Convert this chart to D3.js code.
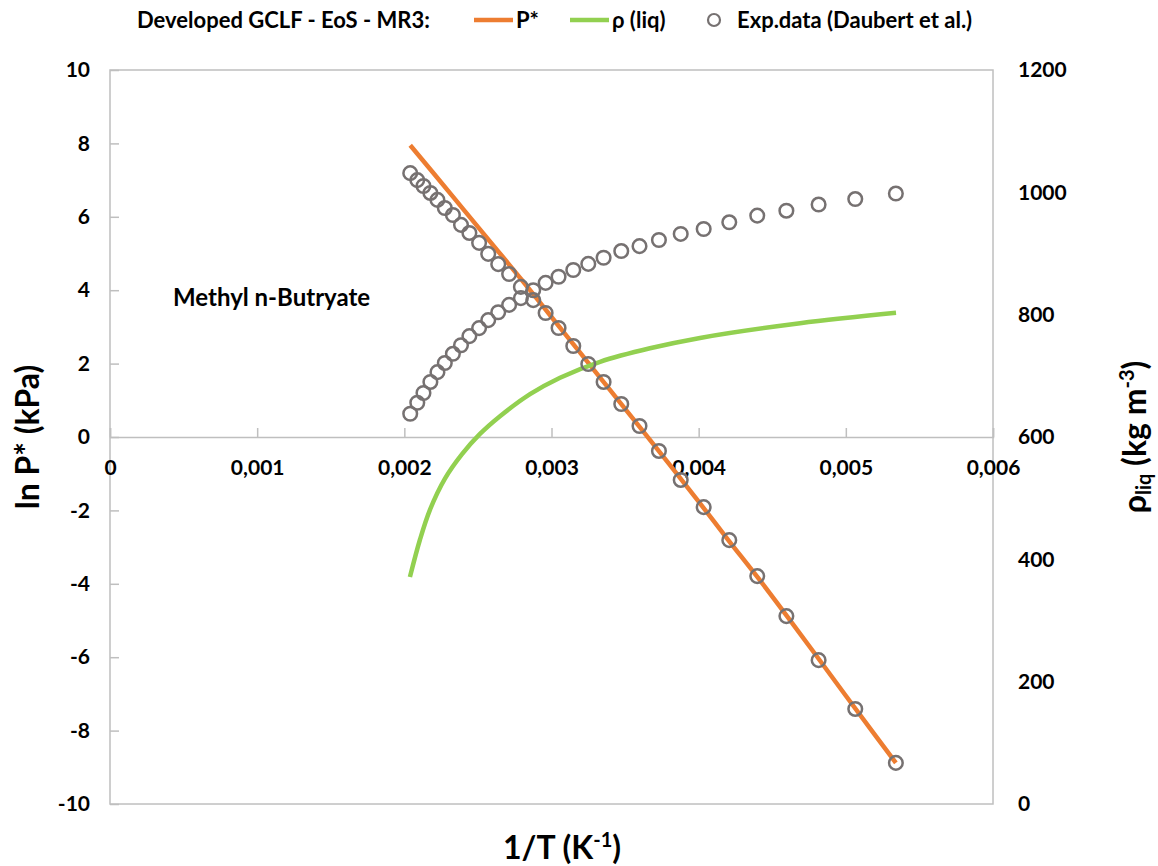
<!DOCTYPE html>
<html>
<head>
<meta charset="utf-8">
<script src="https://cdn.jsdelivr.net/npm/d3@7"></script>
<style>
  body { margin: 0; background: #fff; }
  svg { font-family: Lato, "Open Sans", sans-serif; font-weight: bold; }
  .tick text { fill: #000; }
</style>
</head>
<body>
<div id="chart"></div>
<script>
// 1/T (K^-1) of the experimental points, ln P* and liquid density read at each
var exp_x = [0.002040, 0.002088, 0.002130, 0.002177, 0.002225, 0.002275, 0.002330, 0.002385, 0.002442, 0.002508,
             0.002570, 0.002638, 0.002712, 0.002792, 0.002876, 0.002960, 0.003048, 0.003148, 0.003250, 0.003354,
             0.003474, 0.003598, 0.003730, 0.003878, 0.004034, 0.004208, 0.004398, 0.004596, 0.004815, 0.005064, 0.005340];
var exp_lnp = [7.19, 7.00, 6.84, 6.65, 6.46, 6.24, 6.05, 5.78, 5.56, 5.29,
               4.99, 4.71, 4.44, 4.09, 3.73, 3.38, 2.97, 2.48, 1.99, 1.50,
               0.90, 0.30, -0.38, -1.17, -1.91, -2.81, -3.79, -4.88, -6.08, -7.41, -8.88];
var exp_rho = [638, 656, 672, 690, 706, 721, 736, 750, 765, 778,
               791, 804, 816, 827, 840, 852, 862, 873, 883, 893,
               904, 912, 922, 932, 940, 951, 962, 970, 980, 989, 998];

// model curves
var p_x = [0.00204, 0.0022, 0.0024, 0.0026, 0.0028, 0.0030, 0.0032, 0.0034, 0.0036, 0.0038, 0.0040,
           0.0042, 0.0044, 0.0046, 0.0048, 0.0050, 0.0052, 0.00534];
var p_lnp = [7.95, 7.18, 6.21, 5.24, 4.27, 3.27, 2.27, 1.27, 0.27, -0.74, -1.76,
             -2.80, -3.82, -4.88, -5.96, -7.05, -8.13, -8.88];
var rho_x = [0.002038, 0.002106, 0.002174, 0.002276, 0.002392, 0.002514, 0.00265, 0.002854, 0.003058,
             0.00333, 0.003669, 0.004009, 0.004689, 0.005341];
var rho_val = [371, 432, 481, 532, 572, 605, 634, 670, 697,
               723, 745, 762, 786, 803];

var x_ticks = [0, 0.001, 0.002, 0.003, 0.004, 0.005, 0.006];
var lnp_ticks = [-10, -8, -6, -4, -2, 0, 2, 4, 6, 8, 10];
var rho_ticks = [0, 200, 400, 600, 800, 1000, 1200];

var W = 1158, H = 866;
var L = 110, R = 993, T = 70, B = 804;
var orange = '#ed7d31', green = '#92d050', grey = '#767171', axis_col = '#bfbfbf';

var svg = d3.select('#chart').append('svg').attr('width', W).attr('height', H);

var x = d3.scaleLinear().domain([0, 0.006]).range([L, R]);
var yl = d3.scaleLinear().domain([-10, 10]).range([B, T]);
var yr = d3.scaleLinear().domain([0, 1200]).range([B, T]);

// plot frame
svg.append('rect').attr('x', L).attr('y', T).attr('width', R - L).attr('height', B - T)
    .attr('fill', 'none').attr('stroke', axis_col).attr('stroke-width', 1.5);

var left = svg.append('g').attr('transform', 'translate(' + L + ',0)')
    .call(d3.axisLeft(yl).tickValues(lnp_ticks).tickFormat(d => String(d)).tickSize(-9).tickPadding(20));
left.select('.domain').remove();

var right = svg.append('g').attr('transform', 'translate(' + R + ',0)')
    .call(d3.axisRight(yr).tickValues(rho_ticks).tickFormat(d => String(d)).tickSize(0).tickPadding(25));
right.select('.domain').remove();

var fmt = d => d === 0 ? '0' : d3.format('.3f')(d).replace('.', ',');
var bottom = svg.append('g').attr('transform', 'translate(0,' + yl(0) + ')')
    .call(d3.axisBottom(x).tickValues(x_ticks).tickFormat(fmt).tickSize(-9).tickPadding(23));
bottom.select('.domain').attr('stroke', axis_col).attr('stroke-width', 1.5);

svg.selectAll('.tick line').attr('stroke', axis_col).attr('stroke-width', 1.5);
svg.selectAll('.tick text').attr('font-size', 21).attr('font-family', 'Lato').attr('font-weight', 'bold');

// curves
var line_p = d3.line().x((d, i) => x(p_x[i])).y(d => yl(d)).curve(d3.curveMonotoneX);
svg.append('path').datum(p_lnp).attr('d', line_p).attr('fill', 'none')
    .attr('stroke', orange).attr('stroke-width', 4.5);

var line_rho = d3.line().x((d, i) => x(rho_x[i])).y(d => yr(d)).curve(d3.curveCatmullRom.alpha(0.5));
svg.append('path').datum(rho_val).attr('d', line_rho).attr('fill', 'none')
    .attr('stroke', green).attr('stroke-width', 4.5);

// experimental points
svg.append('g').selectAll('circle.p').data(exp_lnp).join('circle')
    .attr('cx', (d, i) => x(exp_x[i])).attr('cy', d => yl(d)).attr('r', 6.8)
    .attr('fill', 'none').attr('stroke', grey).attr('stroke-width', 2.5);
svg.append('g').selectAll('circle.r').data(exp_rho).join('circle')
    .attr('cx', (d, i) => x(exp_x[i])).attr('cy', d => yr(d)).attr('r', 6.8)
    .attr('fill', 'none').attr('stroke', grey).attr('stroke-width', 2.5);

// annotation
svg.append('text').attr('x', 173).attr('y', 306).attr('font-size', 24).text('Methyl n-Butryate');

// axis titles
svg.append('text').attr('text-anchor', 'middle').attr('font-size', 32)
    .attr('transform', 'translate(39,' + yl(0) + ') rotate(-90)').text('ln P* (kPa)');
var xt = svg.append('text').attr('text-anchor', 'middle').attr('font-size', 32)
    .attr('x', 562).attr('y', 859);
xt.append('tspan').text('1/T (K');
xt.append('tspan').attr('font-size', 20).attr('dy', -12).text('-1');
xt.append('tspan').attr('dy', 12).text(')');

var rt = svg.append('text').attr('text-anchor', 'middle').attr('font-size', 32)
    .attr('transform', 'translate(1146,' + yl(0) + ') rotate(-90)');
rt.append('tspan').text('\u03c1');
rt.append('tspan').attr('font-size', 20).attr('dy', 5).text('liq');
rt.append('tspan').attr('dy', -5).text(' (kg m');
rt.append('tspan').attr('font-size', 20).attr('dy', -12).text('-3');
rt.append('tspan').attr('dy', 12).text(')');

// legend
var lg = svg.append('g').attr('font-size', 22);
lg.append('text').attr('x', 137).attr('y', 28).text('Developed GCLF - EoS - MR3:');
lg.append('line').attr('x1', 474).attr('x2', 513).attr('y1', 20).attr('y2', 20)
    .attr('stroke', orange).attr('stroke-width', 4.5);
lg.append('text').attr('x', 516).attr('y', 28).text('P*');
lg.append('line').attr('x1', 570).attr('x2', 609).attr('y1', 20).attr('y2', 20)
    .attr('stroke', green).attr('stroke-width', 4.5);
lg.append('text').attr('x', 612).attr('y', 28).text('\u03c1 (liq)');
lg.append('circle').attr('cx', 714).attr('cy', 20).attr('r', 6)
    .attr('fill', 'none').attr('stroke', grey).attr('stroke-width', 2.2);
lg.append('text').attr('x', 737).attr('y', 28).text('Exp.data (Daubert et al.)');
</script>
</body>
</html>
